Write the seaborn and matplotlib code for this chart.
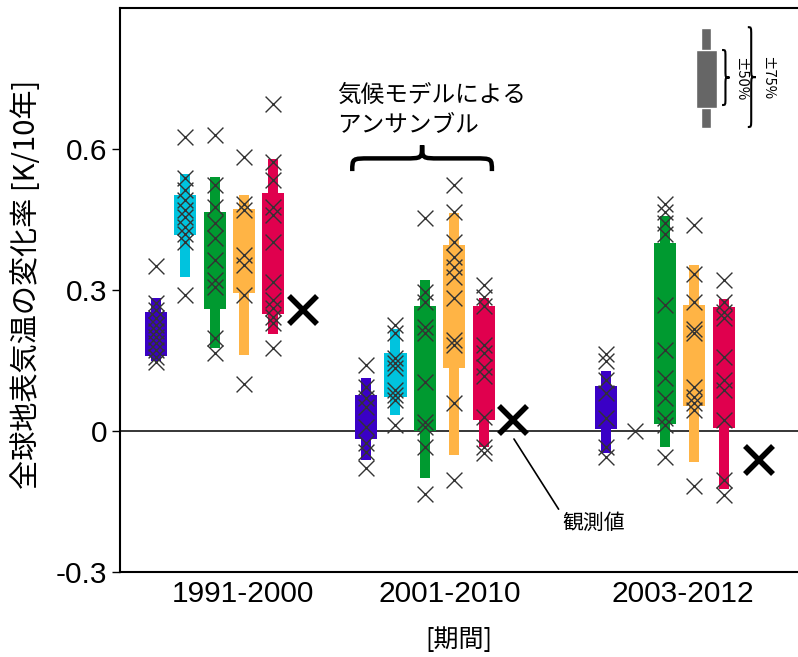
import numpy as np
import pandas as pd
import matplotlib
matplotlib.use("Agg")
import matplotlib.pyplot as plt
from matplotlib.path import Path
from matplotlib.patches import PathPatch
import seaborn as sns

# ---- data ----
periods = ["1991-2000", "2001-2010", "2003-2012"]
models = ["m1", "m2", "m3", "m4", "m5"]
colors = ["#3a00c6", "#00c3de", "#009a30", "#ffb445", "#e0004e"]

nan = np.nan
# +-75% range (thin bar)
lo75 = [[0.150, 0.328, 0.176, 0.162, 0.206],
        [-0.062, 0.034, -0.101, -0.051, -0.033],
        [-0.046, nan, -0.033, -0.067, -0.124]]
hi75 = [[0.282, 0.547, 0.541, 0.502, 0.578],
        [0.112, 0.218, 0.321, 0.463, 0.282],
        [0.128, nan, 0.457, 0.353, 0.281]]
# +-50% range (thick bar)
lo50 = [[0.160, 0.416, 0.259, 0.293, 0.249],
        [-0.016, 0.072, 0.000, 0.133, 0.023],
        [0.004, nan, 0.014, 0.053, 0.006]]
hi50 = [[0.253, 0.502, 0.467, 0.472, 0.506],
        [0.077, 0.165, 0.265, 0.396, 0.267],
        [0.096, nan, 0.399, 0.268, 0.263]]

# individual ensemble members
members = [
    [[0.351, 0.272, 0.257, 0.240, 0.225, 0.212, 0.200, 0.187, 0.172, 0.158, 0.146],
     [0.626, 0.538, 0.513, 0.491, 0.470, 0.456, 0.435, 0.420, 0.403, 0.289],
     [0.630, 0.523, 0.477, 0.442, 0.410, 0.364, 0.321, 0.307, 0.197, 0.165],
     [0.584, 0.484, 0.470, 0.374, 0.353, 0.289, 0.101],
     [0.696, 0.573, 0.534, 0.477, 0.460, 0.403, 0.318, 0.279, 0.261, 0.243, 0.229, 0.176]],
    [[0.140, 0.094, 0.070, 0.052, 0.009, -0.026, -0.044, -0.079],
     [0.226, 0.208, 0.155, 0.144, 0.133, 0.087, 0.077, 0.066, 0.013],
     [0.453, 0.296, 0.275, 0.222, 0.208, 0.105, 0.020, 0.009, -0.033, -0.133],
     [0.523, 0.467, 0.403, 0.371, 0.350, 0.328, 0.282, 0.194, 0.183, 0.059, -0.104],
     [0.311, 0.286, 0.265, 0.183, 0.165, 0.137, 0.116, 0.030, -0.033, -0.047]],
    [[0.164, 0.148, 0.109, 0.080, 0.027, -0.033, -0.055],
     [0.001],
     [0.484, 0.467, 0.442, 0.420, 0.268, 0.172, 0.112, 0.070, 0.027, 0.013, -0.055],
     [0.438, 0.335, 0.275, 0.218, 0.208, 0.094, 0.073, 0.059, 0.045, -0.118],
     [0.321, 0.275, 0.254, 0.240, 0.158, 0.109, 0.087, 0.023, -0.104, -0.136]],
]
observed = [0.257, 0.023, -0.062]

# ---- layout ----
group_start = [1.22, 8.37, 16.53]
obs_offset = [5.0, 5.0, 5.2]
tick_pos = [4.18, 11.22, 19.15]
thick_w, thin_w = 0.75, 0.34

sns.set_style("ticks", {"axes.edgecolor": "black", "text.color": "black",
                        "axes.labelcolor": "black", "xtick.color": "black",
                        "ytick.color": "black"})
plt.rcParams["font.family"] = ["Noto Sans CJK JP", "DejaVu Sans"]

rows = []
for p, per in enumerate(periods):
    for m, mod in enumerate(models):
        for v in members[p][m]:
            rows.append({"period": per, "model": mod,
                         "x": group_start[p] + m, "value": v})
df = pd.DataFrame(rows)

fig = plt.figure(figsize=(7.98, 6.57), dpi=100)
ax = fig.add_axes([120 / 798, 85 / 657, 678 / 798, 564 / 657])

for p in range(len(periods)):
    for m in range(len(models)):
        x = group_start[p] + m
        if not np.isnan(lo75[p][m]):
            ax.bar(x, hi75[p][m] - lo75[p][m], bottom=lo75[p][m], width=thin_w,
                   color=colors[m], linewidth=0, zorder=2)
            ax.bar(x, hi50[p][m] - lo50[p][m], bottom=lo50[p][m], width=thick_w,
                   color=colors[m], linewidth=0, zorder=2)

sns.scatterplot(data=df, x="x", y="value", marker="x", color="#333333",
                s=130, linewidth=1.0, ax=ax, zorder=3, legend=False)

obs_x = [group_start[p] + obs_offset[p] for p in range(len(periods))]
ax.plot(obs_x, observed, linestyle="none", marker="x", markersize=20,
        markeredgewidth=4, color="black", zorder=4)

ax.axhline(0, color="black", linewidth=1.1, zorder=1)

ax.set_xlim(0, 678 / 29.4)
ax.set_ylim(-0.3, 0.9)
ax.set_xticks(tick_pos)
ax.set_xticklabels(periods, fontsize=21.5, family="Liberation Sans")
ax.set_yticks([-0.3, 0, 0.3, 0.6])
ax.set_yticklabels(["-0.3", "0", "0.3", "0.6"], fontsize=21.5,
                   family="Liberation Sans")
ax.tick_params(axis="x", length=0, pad=6, colors="black")
ax.tick_params(axis="y", length=6, width=1, pad=3, colors="black")
ax.set_xlabel("[期間]", fontsize=18, va="center")
ax.xaxis.set_label_coords(0.5, (572 - 640) / 564)
ax.set_ylabel("全球地表気温の変化率 [K/10年]", fontsize=21, va="center")
ax.yaxis.set_label_coords((27 - 120) / 678, 0.51)
for s in ["left", "bottom", "top"]:
    ax.spines[s].set_linewidth(1.5)
    ax.spines[s].set_color("black")
ax.spines["right"].set_visible(False)


def brace(a0, a1, base, mid, peak, r, vertical=False):
    am = (a0 + a1) / 2
    pts = [(a0, base), (a0, mid), (a0, mid), (a0 + r, mid),
           (am - r, mid),
           (am, mid), (am, mid), (am, peak),
           (am, mid), (am, mid), (am + r, mid),
           (a1 - r, mid),
           (a1, mid), (a1, mid), (a1, base)]
    codes = [Path.MOVETO] + [Path.CURVE4] * 3 + [Path.LINETO] + \
            [Path.CURVE4] * 3 + [Path.CURVE4] * 3 + [Path.LINETO] + [Path.CURVE4] * 3
    if vertical:
        pts = [(b, a) for a, b in pts]
    return Path(pts, codes)


# ensemble brace and label
ax.add_patch(PathPatch(brace(7.9, 12.65, 0.553, 0.580, 0.608, 0.6),
                       fill=False, lw=3.2, color="black", zorder=5))
ax.text(7.4, 0.738, "気候モデルによる\nアンサンブル", fontsize=17,
        ha="left", va="top", linespacing=1.4, color="black")

# observed annotation
ax.annotate("観測値", xy=(13.4, -0.017), xytext=(15.03, -0.196),
            fontsize=15, ha="left", va="center", color="black",
            arrowprops=dict(arrowstyle="-", color="black", lw=1.2,
                            shrinkA=0, shrinkB=0,
                            relpos=(0, 0.9)))

# key in the upper right corner
tr = ax.transAxes
ax.bar(0.857 + 0.0074, 0.9645 - 0.787, bottom=0.787, width=0.0147,
       color="#666666", transform=tr, zorder=5)
ax.bar(0.8496 + 0.0155, 0.9255 - 0.8227, bottom=0.8227, width=0.031,
       color="#666666", transform=tr, zorder=5)
ax.add_patch(PathPatch(brace(0.828, 0.9255, 0.888, 0.893, 0.899, 0.012, vertical=True),
                       fill=False, lw=1.5, color="black", transform=tr, zorder=5))
ax.add_patch(PathPatch(brace(0.789, 0.966, 0.926, 0.931, 0.938, 0.015, vertical=True),
                       fill=False, lw=1.5, color="black", transform=tr, zorder=5))
ax.text(0.915, 0.874, "±50%", transform=tr, rotation=-90, fontsize=10.5,
        ha="center", va="center", color="black")
ax.text(0.955, 0.876, "±75%", transform=tr, rotation=-90, fontsize=10.5,
        ha="center", va="center", color="black")

fig.savefig("out.png", dpi=100)
